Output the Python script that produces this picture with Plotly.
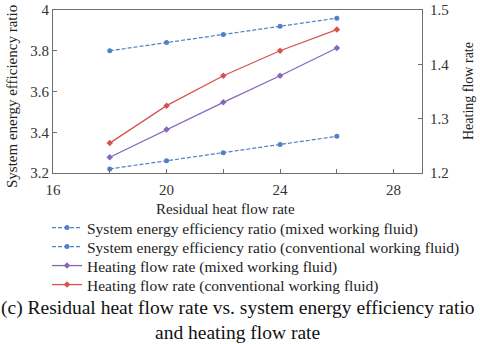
import plotly.graph_objects as go

# residual heat flow rate
flow_rate = [18, 20, 22, 24, 26]

# system energy efficiency ratio (left axis)
eer_mixed = [3.80, 3.84, 3.88, 3.92, 3.96]
eer_conventional = [3.22, 3.26, 3.30, 3.34, 3.38]

# heating flow rate (right axis)
heat_mixed = [1.229, 1.280, 1.330, 1.379, 1.430]
heat_conventional = [1.255, 1.324, 1.379, 1.425, 1.464]

font_name = "Liberation Serif"
blue = "#4f81c7"
purple = "#8767bd"
red = "#d6534f"
axis_col = "#6e6e6e"
text_col = "#222222"

fig = go.Figure()
fig.add_trace(go.Scatter(
    x=flow_rate, y=eer_mixed, mode="lines+markers", legend="legend",
    name="System energy efficiency ratio (mixed working fluid)",
    line=dict(color=blue, width=1.2, dash="4px,2px"),
    marker=dict(color=blue, size=5)))
fig.add_trace(go.Scatter(
    x=flow_rate, y=eer_conventional, mode="lines+markers",
    legend="legend2",
    name="System energy efficiency ratio (conventional working fluid)",
    line=dict(color=blue, width=1.2, dash="4px,2px"),
    marker=dict(color=blue, size=5)))
fig.add_trace(go.Scatter(
    x=flow_rate, y=heat_mixed, mode="lines+markers", yaxis="y2",
    legend="legend3",
    name="Heating flow rate (mixed working fluid)",
    line=dict(color=purple, width=1.3),
    marker=dict(color=purple, size=5, symbol="diamond")))
fig.add_trace(go.Scatter(
    x=flow_rate, y=heat_conventional, mode="lines+markers", yaxis="y2",
    legend="legend4",
    name="Heating flow rate (conventional working fluid)",
    line=dict(color=red, width=1.3),
    marker=dict(color=red, size=5, symbol="diamond")))

tick_font = dict(family=font_name, size=15, color="#333333")


def legend_row(y_px):
    # one legend per row so the row spacing can follow the reference
    return dict(xref="container", yref="container",
                x=47 / 480, y=1 - y_px / 344,
                xanchor="left", yanchor="middle",
                font=dict(family=font_name, size=15.5, color=text_col),
                itemwidth=30, bgcolor="rgba(0,0,0,0)")


fig.update_layout(
    width=480, height=344,
    margin=dict(l=53, r=58, t=10, b=171, autoexpand=False),
    paper_bgcolor="white", plot_bgcolor="white",
    font=dict(family=font_name, color=text_col),
    showlegend=True,
    legend=legend_row(228),
    legend2=legend_row(247),
    legend3=legend_row(266),
    legend4=legend_row(285),
    xaxis=dict(range=[16, 29], dtick=4, tick0=16, showgrid=False,
               zeroline=False, showline=True, mirror=True,
               linecolor=axis_col, linewidth=1,
               ticks="inside", ticklen=4, tickcolor=axis_col,
               minor=dict(dtick=2, ticks="inside", ticklen=4,
                          tickcolor=axis_col),
               tickfont=tick_font, ticklabelstandoff=3),
    yaxis=dict(range=[3.2, 4.0], dtick=0.2, showgrid=False,
               zeroline=False, showline=True, linecolor=axis_col,
               ticks="inside", ticklen=4, tickcolor=axis_col,
               tickfont=tick_font),
    yaxis2=dict(range=[1.2, 1.5], dtick=0.1, overlaying="y",
                side="right", showgrid=False, zeroline=False,
                showline=True, linecolor=axis_col,
                ticks="inside", ticklen=4, tickcolor=axis_col,
                tickfont=tick_font, ticklabelstandoff=4),
)

# axis titles as annotations (pixel positions from the reference)
fig.add_annotation(
    text="System energy efficiency ratio", xref="paper", yref="paper",
    x=(12 - 53) / 369, y=1 - (97 - 10) / 163, textangle=-90,
    xanchor="center", yanchor="middle", showarrow=False,
    font=dict(family=font_name, size=15, color=text_col))
fig.add_annotation(
    text="Heating flow rate", xref="paper", yref="paper",
    x=(468 - 53) / 369, y=1 - (91 - 10) / 163, textangle=-90,
    xanchor="center", yanchor="middle", showarrow=False,
    font=dict(family=font_name, size=14, color=text_col))
fig.add_annotation(
    text="Residual heat flow rate", xref="paper", yref="paper",
    x=(225 - 53) / 369, y=-(209 - 173) / 163, yanchor="middle",
    showarrow=False,
    font=dict(family=font_name, size=15, color=text_col))

fig.add_annotation(
    text="(c) Residual heat flow rate vs. system energy efficiency ratio",
    xref="paper", yref="paper", x=(238 - 53) / 369,
    y=-(308 - 173) / 163, yanchor="middle", showarrow=False,
    font=dict(family=font_name, size=19.5, color="#111111"))
fig.add_annotation(
    text="and heating flow rate",
    xref="paper", yref="paper", x=(238 - 53) / 369,
    y=-(332 - 173) / 163, yanchor="middle", showarrow=False,
    font=dict(family=font_name, size=19.5, color="#111111"))

# drop the page's default body margin so the figure sits at the corner
fig.write_html("out.html", config={"displayModeBar": False},
               post_script="document.body.style.margin='0px';")
